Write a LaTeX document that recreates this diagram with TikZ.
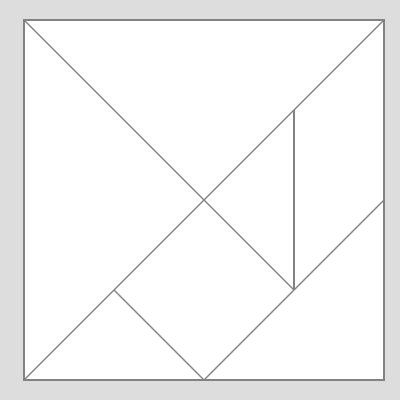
\documentclass[tikz,border=0pt]{standalone}
\usepackage{xcolor}
\usepackage{tikz}
\definecolor{framegray}{RGB}{221,221,221}
\definecolor{cutgray}{RGB}{130,130,130}

\begin{document}
\begin{tikzpicture}[
    x=2.25cm, y=2.25cm,
    cut/.style={draw=cutgray, line width=0.8pt},
]
    % Gray backdrop, fixes the margins
    \fill[framegray] (-0.2667,-0.2222) rectangle (4.1778,4.2222);
    \useasboundingbox (-0.2667,-0.2222) rectangle (4.1778,4.2222);

    % Corners and cut points
    \coordinate (bl) at (0,0);
    \coordinate (br) at (4,0);
    \coordinate (tr) at (4,4);
    \coordinate (tl) at (0,4);
    \coordinate (bmid) at (2,0);
    \coordinate (rmid) at (4,2);
    \coordinate (low) at (1,1);
    \coordinate (foot) at (3,1);
    \coordinate (top) at (3,3);

    % Outer square
    \fill[white] (bl) rectangle (tr);
    \draw[cut] (bl) rectangle (tr);

    % Cuts of the pieces
    \draw[cut] (bl) -- (tr);
    \draw[cut] (tl) -- (foot);
    \draw[cut] (foot) -- (top);
    \draw[cut] (bmid) -- (rmid);
    \draw[cut] (low) -- (bmid);
\end{tikzpicture}
\end{document}
